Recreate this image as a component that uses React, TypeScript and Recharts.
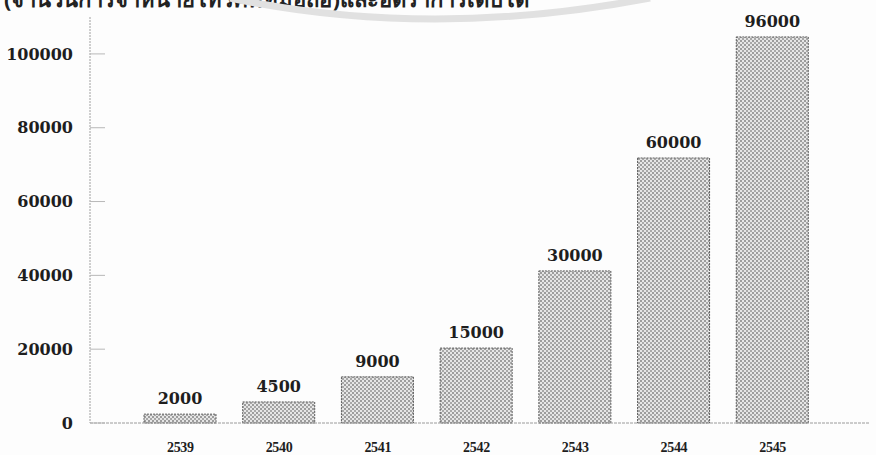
import { Bar, BarChart, LabelList, XAxis, YAxis } from "recharts";

// ปี พ.ศ.
const years = ["2539", "2540", "2541", "2542", "2543", "2544", "2545"];
// bar heights as drawn in the picture
const heights = [2400, 5700, 12500, 20300, 41200, 71800, 104600];
// printed value labels above the bars
const valueLabels = ["2000", "4500", "9000", "15000", "30000", "60000", "96000"];
const yTicks = [0, 20000, 40000, 60000, 80000, 100000];

const TITLE = "(จำนวนการจำหน่ายโทรศัพท์มือถือ)และอัตราการเติบโต";

const data = years.map((year, i) => ({ year, value: heights[i], label: valueLabels[i] }));

const INK = "#1e1e1e";

export default function App() {
  return (
    <div
      style={{
        position: "absolute",
        left: 0,
        top: 0,
        width: 876,
        height: 455,
        overflow: "hidden",
        background: "#fdfdfd",
      }}
    >
      <div
        style={{
          position: "absolute",
          left: 4,
          top: -18,
          fontFamily: "'Noto Sans', 'DejaVu Sans', sans-serif",
          fontWeight: 700,
          fontSize: 22,
          color: "#222",
          whiteSpace: "nowrap",
        }}
      >
        {TITLE}
      </div>
      <svg width={876} height={40} style={{ position: "absolute", left: 0, top: 0 }}>
        <path d="M 230 -2 Q 430 40 650 -2" fill="none" stroke="#e1e1e1" strokeWidth={7} />
      </svg>
      <BarChart
        width={876}
        height={455}
        data={data}
        margin={{ top: 17, right: 6, bottom: 0, left: 0 }}
        style={{ position: "absolute", left: 0, top: 0 }}
      >
        <defs>
          <pattern id="stipple" width="4" height="4" patternUnits="userSpaceOnUse">
            <rect width="4" height="4" fill="#e6e6e6" />
            <rect x="0" y="0" width="2" height="2" fill="#9c9c9c" />
            <rect x="2" y="2" width="2" height="2" fill="#a8a8a8" />
          </pattern>
        </defs>
        <XAxis
          dataKey="year"
          height={32}
          padding={{ left: 41, right: 48 }}
          axisLine={{ stroke: "#9a9a9a", strokeDasharray: "3 1" }}
          tickLine={false}
          tickMargin={13}
          tick={{
            fill: INK,
            fontSize: 14,
            fontWeight: 700,
            fontFamily: "'Liberation Serif', serif",
            letterSpacing: -0.3,
          }}
        />
        <YAxis
          width={90}
          domain={[0, 110000]}
          ticks={yTicks}
          interval={0}
          axisLine={{ stroke: "#a0a0a0", strokeDasharray: "2 1" }}
          tickLine={{ stroke: "#b8b8b8" }}
          tickSize={-15}
          tickMargin={32}
          tick={{
            fill: INK,
            fontSize: 16,
            fontWeight: 700,
            fontFamily: "'DejaVu Serif', serif",
          }}
        />
        <Bar
          dataKey="value"
          barSize={72}
          fill="url(#stipple)"
          stroke="#5f5f5f"
          strokeWidth={1}
          strokeDasharray="2 1"
          isAnimationActive={false}
        >
          <LabelList
            dataKey="label"
            position="top"
            offset={10}
            fill={INK}
            fontSize={16}
            fontWeight={700}
            fontFamily="'DejaVu Serif', serif"
          />
        </Bar>
      </BarChart>
    </div>
  );
}
